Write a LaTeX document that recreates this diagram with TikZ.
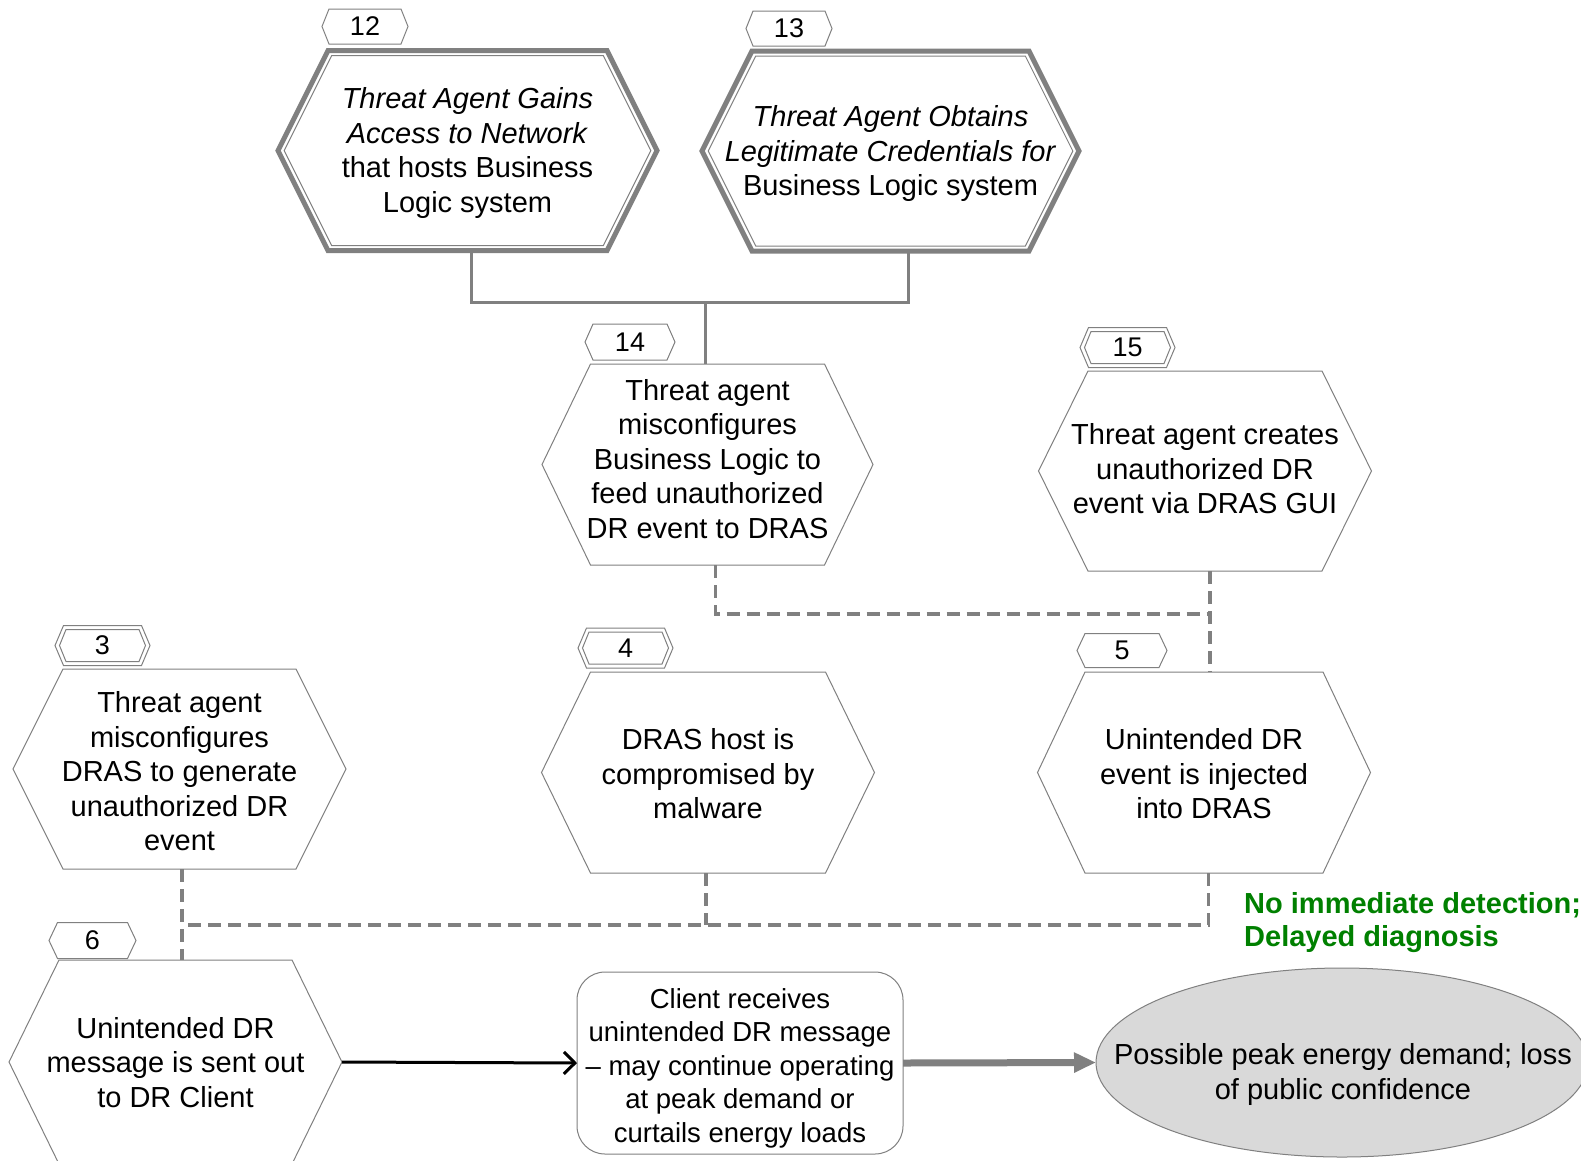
\documentclass[tikz,border=0pt]{standalone}
\usepackage{fontspec}
\setmainfont{Liberation Sans}
\usetikzlibrary{arrows.meta,shapes.geometric}
\definecolor{edge}{RGB}{128,128,128}
\definecolor{ellfill}{RGB}{217,217,217}
\definecolor{dgreen}{RGB}{0,128,0}
\newcommand\hexpath[5][]{\draw[#1] (#2.center) ++(-#3,-#4) -- ++({2*#3},0) -- ++(#5,#4) -- ++(-#5,#4) -- ++({-2*#3},0) -- ++(-#5,-#4) -- cycle;}
\tikzset{
  hexbox/.style 2 args={draw=none, inner sep=0pt, outer sep=0pt, minimum width=#1, minimum height=#2},
  thinhex/.style={draw=edge, line width=1pt, fill=white},
  thickhex/.style={draw=edge, line width=5pt, fill=white, line join=miter},
  innerhex/.style={draw=edge, line width=1pt},
  tagline/.style={draw=edge, line width=1pt, fill=white},
  tagtext/.style={inner sep=0pt, font=\fontsize{27}{30}\selectfont},
  htext/.style={align=center, inner sep=0pt, font=\fontsize{29}{34.5}\selectfont},
  rtext/.style={align=center, inner sep=0pt, font=\fontsize{27.5}{33.5}\selectfont},
  solidconn/.style={draw=edge, line width=3pt},
  dashconn/.style={draw=edge, line width=3.5pt, dash pattern=on 13pt off 7pt},
  arrblack/.style={draw=black, line width=3pt, -{Straight Barb[length=11pt,width=22pt]}},
  arrgray/.style={draw=edge, line width=7pt, -{Triangle[length=22pt,width=19pt]}},
}
\begin{document}
\begin{tikzpicture}[x=1pt,y=-1pt]
\useasboundingbox (0,0) rectangle (1581,1160);
\clip (0,0) rectangle (1581,1160);
\fill[white] (0,0) rectangle (1581,1160);

% ---------- hexagon 12 ----------
\node[hexbox={279pt}{200pt}] (h12) at (467.5,150.6) {};
\hexpath[thickhex]{h12}{139.5}{100}{50}
\hexpath[innerhex]{h12}{135.8}{95}{47.5}
\node[htext] (t12) at (467.5,153) {\textit{Threat Agent Gains}\\\textit{Access to Network}\\that hosts Business\\Logic system};
\node[tagtext] (n12) at (365,26.5) {12};
\hexpath[tagline]{n12}{36}{17.5}{7}
\node[tagtext] at (n12) {12};

% ---------- hexagon 13 ----------
\node[hexbox={277pt}{200pt}] (h13) at (890.5,151) {};
\hexpath[thickhex]{h13}{138.5}{100}{50}
\hexpath[innerhex]{h13}{134.8}{95}{47.5}
\node[htext] (t13) at (890.5,153.5) {\textit{Threat Agent Obtains}\\\textit{Legitimate Credentials for}\\Business Logic system};
\node[tagtext] (n13) at (789,28.5) {13};
\hexpath[tagline]{n13}{36}{17.5}{7}
\node[tagtext] at (n13) {13};

% ---------- hexagon 14 ----------
\node[hexbox={234pt}{201pt}] (h14) at (707.5,464.5) {};
\hexpath[thinhex]{h14}{117}{100.5}{48.5}
\node[htext] (t14) at (707.5,459) {Threat agent\\misconfigures\\Business Logic to\\feed unauthorized\\DR event to DRAS};
\node[tagtext] (n14) at (630,342) {14};
\hexpath[tagline]{n14}{37}{18}{8}
\node[tagtext] at (n14) {14};

% ---------- hexagon 15 ----------
\node[hexbox={234pt}{200pt}] (h15) at (1205,471) {};
\hexpath[thinhex]{h15}{117}{100}{49.5}
\node[htext] (t15) at (1205,469) {Threat agent creates\\unauthorized DR\\event via DRAS GUI};
\node[tagtext] (n15) at (1127.5,347.5) {15};
\hexpath[tagline]{n15}{39}{20}{8.5}
\hexpath[innerhex]{n15}{36.5}{16}{6.5}
\node[tagtext] at (n15) {15};

% ---------- hexagon 3 ----------
\node[hexbox={233pt}{200pt}] (h3) at (179.5,769) {};
\hexpath[thinhex]{h3}{116.5}{100}{50}
\node[htext] (t3) at (179.5,771.5) {Threat agent\\misconfigures\\DRAS to generate\\unauthorized DR\\event};
\node[tagtext] (n3) at (102.5,645.5) {3};
\hexpath[tagline]{n3}{39}{20}{8.5}
\hexpath[innerhex]{n3}{36.5}{16}{6.5}
\node[tagtext] at (n3) {3};

% ---------- hexagon 4 ----------
\node[hexbox={235pt}{201pt}] (h4) at (708,772.5) {};
\hexpath[thinhex]{h4}{117.5}{100.5}{49}
\node[htext] (t4) at (708,774) {DRAS host is\\compromised by\\malware};
\node[tagtext] (n4) at (625.5,648) {4};
\hexpath[tagline]{n4}{39}{20}{8.5}
\hexpath[innerhex]{n4}{36.5}{16}{6.5}
\node[tagtext] at (n4) {4};

% ---------- hexagon 5 ----------
\node[hexbox={238pt}{201pt}] (h5) at (1204,772.5) {};
\hexpath[thinhex]{h5}{119}{100.5}{47.5}
\node[htext] (t5) at (1204,774) {Unintended DR\\event is injected\\into DRAS};
\node[tagtext] (n5) at (1122,650.5) {5};
\hexpath[tagline]{n5}{37}{17}{8}
\node[tagtext] at (n5) {5};

% ---------- hexagon 6 ----------
\node[hexbox={233pt}{204pt}] (h6) at (175.5,1062) {};
\hexpath[thinhex]{h6}{116.5}{102}{50}
\node[htext] (t6) at (175.5,1062.5) {Unintended DR\\message is sent out\\to DR Client};
\node[tagtext] (n6) at (92.5,940.5) {6};
\hexpath[tagline]{n6}{35}{18}{8.5}
\node[tagtext] at (n6) {6};

% ---------- client box and outcome ----------
\node[draw=edge, line width=1pt, rounded corners=28pt, inner sep=0pt, outer sep=0pt,
      minimum width=326pt, minimum height=182pt] (rect) at (740,1063) {};
\node[rtext] (trect) at (740,1068) {Client receives\\unintended DR message\\– may continue operating\\at peak demand or\\curtails energy loads};

\node[ellipse, draw=edge, line width=1pt, fill=ellfill, inner sep=0pt, outer sep=0pt,
      minimum width=492pt, minimum height=189pt] (ell) at (1342,1062.5) {};
\node[htext] (tell) at (1343,1074.5) {Possible peak energy demand; loss\\of public confidence};

\node[align=left, anchor=west, inner sep=0pt, text=dgreen, font=\fontsize{29}{33}\selectfont\bfseries]
  (green) at (1244,922.5) {No immediate detection;\\Delayed diagnosis};

% ---------- connectors ----------
\coordinate (j1) at (705,302);
\draw[solidconn] ([xshift=3.5pt]h12.south) |- (j1) -| ([xshift=17.5pt]h13.south);
\draw[solidconn] (j1) -- (j1 |- h14.north);

\coordinate (j2) at (1210,614);
\draw[dashconn] ([xshift=8pt]h14.south) |- (j2);
\draw[dashconn] (h15.south -| j2) -- (h5.north -| j2);

\coordinate (j3) at (182,925);
\draw[dashconn] (h3.south -| j3) -- (h6.north -| j3);
\draw[dashconn] ([xshift=4.5pt]h5.south) |- (j3);
\draw[dashconn] ([xshift=-2pt]h4.south) -- ([xshift=-2pt]h4.south |- j3);

\draw[arrblack] ([xshift=50pt]h6.east) -- (rect.west);
\draw[arrgray] (rect.east) -- (ell.west);
\end{tikzpicture}
\end{document}
